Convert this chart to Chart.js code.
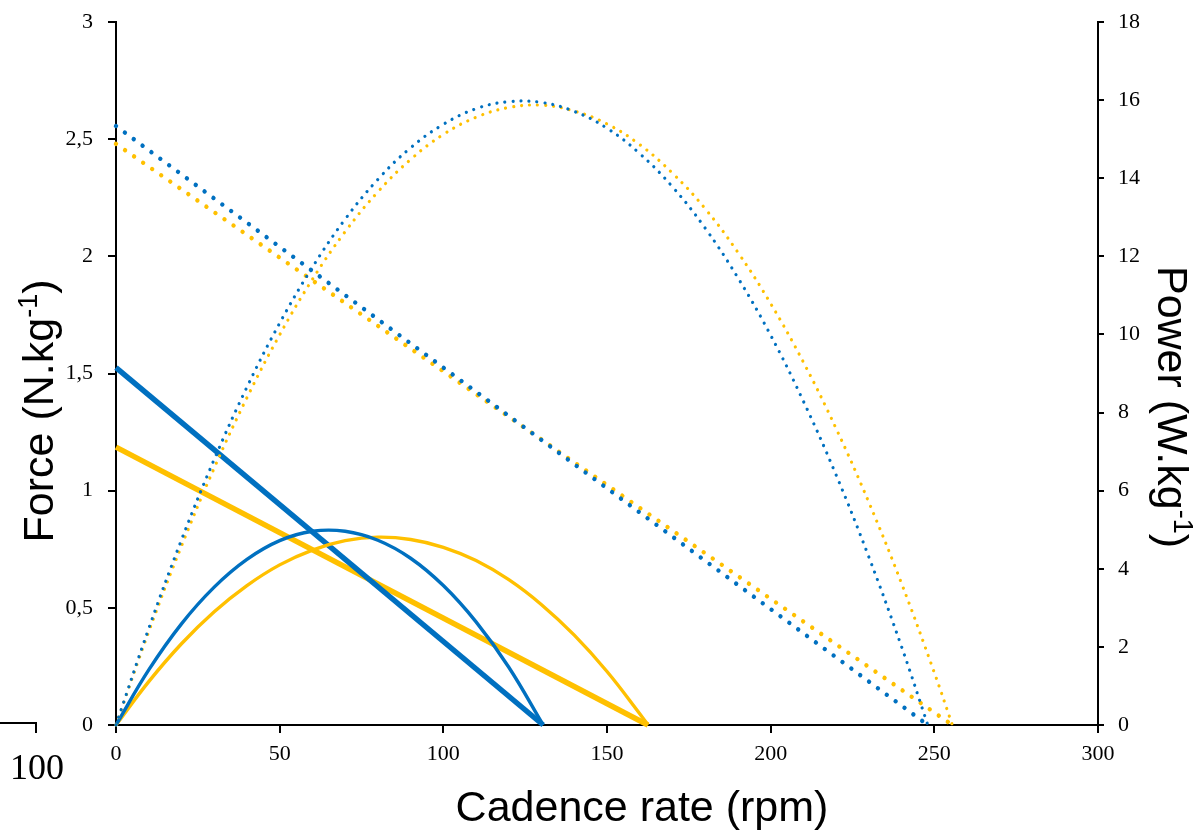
<!DOCTYPE html>
<html>
<head>
<meta charset="utf-8">
<title>Force and power vs cadence</title>
<script src="https://cdn.jsdelivr.net/npm/chart.js@4.4.1/dist/chart.umd.min.js"></script>
<style>
  html, body { margin: 0; padding: 0; background: #fff; }
  #wrap { width: 1196px; height: 832px; }
</style>
</head>
<body>
<div id="wrap"><canvas id="cadenceChart" width="1196" height="832"></canvas></div>
<script>
// Force-velocity lines (N/kg)
const cadenceForceBlue = [0, 130.5];
const forceBlue = [1.525, 0];
const cadenceForceYellow = [0, 162.5];
const forceYellow = [1.186, 0];
const cadenceForceBlueDot = [0, 248];
const forceBlueDot = [2.556, 0];
const cadenceForceYellowDot = [0, 255.5];
const forceYellowDot = [2.48, 0];

// Power-velocity curves (W/kg)
const cadencePowerBlue = [0, 10, 20, 30, 40, 50, 60, 70, 80, 90, 100, 110, 120, 130.5];
const powerBlue = [0, 1.41, 2.59, 3.53, 4.24, 4.72, 4.96, 4.96, 4.73, 4.27, 3.57, 2.64, 1.48, 0];
const cadencePowerYellow = [0, 10, 20, 30, 40, 50, 60, 70, 80, 90, 100, 110, 120, 130, 140, 150, 160, 162.5];
const powerYellow = [0, 1.11, 2.08, 2.90, 3.57, 4.10, 4.48, 4.72, 4.81, 4.75, 4.55, 4.21, 3.72, 3.08, 2.30, 1.37, 0.29, 0];
const cadencePowerBlueDot = [0, 10, 20, 30, 40, 50, 60, 70, 80, 90, 100, 110, 120, 130, 140, 150, 160, 170, 180, 190, 200, 210, 220, 230, 240, 248];
const powerBlueDot = [0, 2.47, 4.74, 6.80, 8.65, 10.29, 11.72, 12.95, 13.97, 14.78, 15.38, 15.78, 15.96, 15.94, 15.71, 15.28, 14.63, 13.78, 12.72, 11.45, 9.98, 8.29, 6.40, 4.30, 2.00, 0];
const cadencePowerYellowDot = [0, 10, 20, 30, 40, 50, 60, 70, 80, 90, 100, 110, 120, 130, 140, 150, 160, 170, 180, 190, 200, 210, 220, 230, 240, 250, 255.5];
const powerYellowDot = [0, 2.39, 4.58, 6.58, 8.38, 9.99, 11.41, 12.63, 13.65, 14.48, 15.12, 15.56, 15.81, 15.87, 15.72, 15.39, 14.86, 14.13, 13.22, 12.10, 10.79, 9.29, 7.59, 5.70, 3.62, 1.34, 0];

const BLUE = '#0070C0';
const YELLOW = '#FFC000';

function pts(xs, ys) {
    return xs.map((x, i) => ({ x: x, y: ys[i] }));
}

const tickFont = { family: '"Liberation Serif", "Times New Roman", serif', size: 22 };

// fixed axis thickness; drop the label overhang so the plot keeps its full height
function fixWidth(w) {
    return function(scale) {
        scale.width = w;
        scale.paddingTop = 0;
        scale.paddingBottom = 0;
    };
}

// axis titles with superscripts, plus the stray label at the bottom left
const axisTitles = {
    id: 'axisTitles',
    afterDraw(chart) {
        const ctx = chart.ctx;
        const mainFont = '43px "Liberation Sans", Arial, sans-serif';
        const supFont = '27px "Liberation Sans", Arial, sans-serif';

        function title(base, sup, tail, cx, cy, angle) {
            ctx.save();
            ctx.translate(cx, cy);
            ctx.rotate(angle);
            ctx.fillStyle = '#000';
            ctx.textBaseline = 'alphabetic';
            ctx.textAlign = 'left';
            ctx.font = mainFont;
            const wBase = ctx.measureText(base).width;
            const wTail = ctx.measureText(tail).width;
            ctx.font = supFont;
            const wSup = ctx.measureText(sup).width;
            let x = -(wBase + wSup + wTail) / 2;
            ctx.font = mainFont;
            ctx.fillText(base, x, 0);
            x += wBase;
            ctx.font = supFont;
            ctx.fillText(sup, x, -16);
            x += wSup;
            ctx.font = mainFont;
            ctx.fillText(tail, x, 0);
            ctx.restore();
        }

        title('Force (N.kg', '-1', ')', 53, 411, -Math.PI / 2);
        title('Power (W.kg', '-1', ')', 1158, 407, Math.PI / 2);
        title('Cadence rate (rpm', '', ')', 642, 821, 0);

        ctx.save();
        ctx.strokeStyle = '#000';
        ctx.lineWidth = 2;
        ctx.beginPath();
        ctx.moveTo(0, 723);
        ctx.lineTo(36, 723);
        ctx.lineTo(36, 733);
        ctx.stroke();
        ctx.fillStyle = '#000';
        ctx.font = '36px "Liberation Serif", "Times New Roman", serif';
        ctx.textBaseline = 'alphabetic';
        ctx.textAlign = 'left';
        ctx.fillText('100', 10, 779);
        ctx.restore();
    }
};

const ctx = document.getElementById('cadenceChart').getContext('2d');
const cadenceChart = new Chart(ctx, {
    type: 'line',
    data: {
        datasets: [
            {
                label: 'Power (dotted, blue)',
                data: pts(cadencePowerBlueDot, powerBlueDot),
                yAxisID: 'y1',
                borderColor: BLUE,
                borderWidth: 3.2,
                borderDash: [0.01, 8],
                borderCapStyle: 'round',
                tension: 0.4
            },
            {
                label: 'Power (dotted, yellow)',
                data: pts(cadencePowerYellowDot, powerYellowDot),
                yAxisID: 'y1',
                borderColor: YELLOW,
                borderWidth: 3.2,
                borderDash: [0.01, 8],
                borderCapStyle: 'round',
                tension: 0.4
            },
            {
                label: 'Force (dotted, blue)',
                data: pts(cadenceForceBlueDot, forceBlueDot),
                yAxisID: 'y',
                borderColor: BLUE,
                borderWidth: 4.4,
                borderDash: [0.01, 11],
                borderCapStyle: 'round'
            },
            {
                label: 'Force (dotted, yellow)',
                data: pts(cadenceForceYellowDot, forceYellowDot),
                yAxisID: 'y',
                borderColor: YELLOW,
                borderWidth: 4.4,
                borderDash: [0.01, 11],
                borderCapStyle: 'round'
            },
            {
                label: 'Power (blue)',
                data: pts(cadencePowerBlue, powerBlue),
                yAxisID: 'y1',
                borderColor: BLUE,
                borderWidth: 3.4,
                tension: 0.4
            },
            {
                label: 'Power (yellow)',
                data: pts(cadencePowerYellow, powerYellow),
                yAxisID: 'y1',
                borderColor: YELLOW,
                borderWidth: 3.4,
                tension: 0.4
            },
            {
                label: 'Force (blue)',
                data: pts(cadenceForceBlue, forceBlue),
                yAxisID: 'y',
                borderColor: BLUE,
                borderWidth: 5.4
            },
            {
                label: 'Force (yellow)',
                data: pts(cadenceForceYellow, forceYellow),
                yAxisID: 'y',
                borderColor: YELLOW,
                borderWidth: 5.4
            }
        ]
    },
    options: {
        responsive: false,
        animation: false,
        clip: false,
        layout: { padding: { top: 22 } },
        elements: { point: { radius: 0 } },
        plugins: {
            legend: { display: false },
            tooltip: { enabled: false }
        },
        scales: {
            x: {
                type: 'linear',
                min: 0,
                max: 300,
                afterFit(scale) { scale.height = 107; },
                border: { color: '#000', width: 2 },
                grid: { drawOnChartArea: false, color: '#000', lineWidth: 2, tickLength: 8 },
                ticks: { stepSize: 50, color: '#000', font: tickFont, padding: 8, maxRotation: 0 }
            },
            y: {
                position: 'left',
                min: 0,
                max: 3,
                afterFit: fixWidth(116),
                border: { color: '#000', width: 2 },
                grid: { drawOnChartArea: false, color: '#000', lineWidth: 2, tickLength: 8 },
                ticks: {
                    stepSize: 0.5,
                    color: '#000',
                    font: tickFont,
                    padding: 15,
                    callback: v => String(v).replace('.', ',')
                }
            },
            y1: {
                position: 'right',
                min: 0,
                max: 18,
                afterFit: fixWidth(98),
                border: { color: '#000', width: 2 },
                grid: { drawOnChartArea: false, color: '#000', lineWidth: 2, tickLength: 6 },
                ticks: { stepSize: 2, color: '#000', font: tickFont, padding: 14 }
            }
        }
    },
    plugins: [axisTitles]
});
</script>
</body>
</html>
